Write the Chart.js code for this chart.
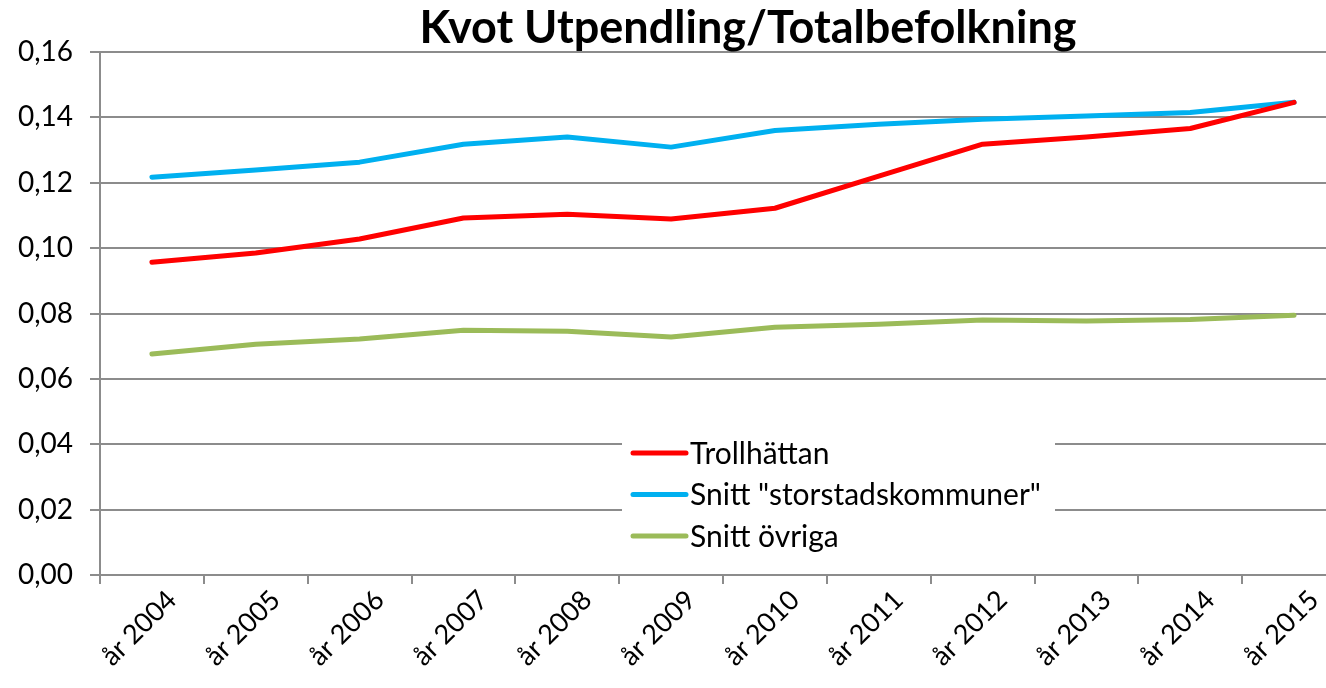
<!DOCTYPE html>
<html>
<head>
<meta charset="utf-8">
<script src="https://cdn.jsdelivr.net/npm/chart.js@4/dist/chart.umd.min.js"></script>
<style>
  html, body { margin: 0; padding: 0; background: #fff; overflow: hidden; }
  #wrap { width: 1346px; height: 688px; }
</style>
</head>
<body>
<div id="wrap"><canvas id="kvotChart" width="1346" height="688"></canvas></div>
<script>
// data läst från diagrammet
const years = ['år 2004', 'år 2005', 'år 2006', 'år 2007', 'år 2008', 'år 2009',
               'år 2010', 'år 2011', 'år 2012', 'år 2013', 'år 2014', 'år 2015'];
const trollhattan = [0.0957, 0.0985, 0.1028, 0.1092, 0.1104, 0.1089, 0.1122, 0.1220, 0.1318, 0.1340, 0.1366, 0.1446];
const storstad    = [0.1217, 0.1239, 0.1263, 0.1318, 0.1340, 0.1309, 0.1360, 0.1379, 0.1394, 0.1404, 0.1415, 0.1446];
const ovriga      = [0.0676, 0.0706, 0.0722, 0.0749, 0.0746, 0.0728, 0.0758, 0.0767, 0.0780, 0.0777, 0.0782, 0.0795];
const seriesNames = ['Trollhättan', 'Snitt "storstadskommuner"', 'Snitt övriga'];
const seriesColors = ['#FF0000', '#00B0F0', '#9BBB59'];

const FONT = 'Lato, "Noto Sans", sans-serif';
const gridColor = '#8c8c8c';

// titel ritas själv så att plotytan hamnar rätt
const titlePlugin = {
    id: 'titlePlugin',
    afterDraw(chart) {
        const ctx = chart.ctx;
        ctx.save();
        ctx.font = 'bold 45px ' + FONT;
        ctx.fillStyle = '#000';
        ctx.textAlign = 'center';
        ctx.textBaseline = 'middle';
        ctx.fillText('Kvot Utpendling/Totalbefolkning', 748, 28);
        ctx.restore();
    }
};

// legend inne i plotytan med vit bakgrund
const boxLegend = {
    id: 'boxLegend',
    afterDatasetsDraw(chart) {
        const ctx = chart.ctx;
        const x = 622, y = 434, w = 433, h = 126;
        ctx.save();
        ctx.fillStyle = '#fff';
        ctx.fillRect(x, y, w, h);
        ctx.font = '30px ' + FONT;
        ctx.textBaseline = 'middle';
        ctx.textAlign = 'left';
        chart.data.datasets.forEach((ds, i) => {
            const ly = 453 + i * 41.5;
            ctx.strokeStyle = ds.borderColor;
            ctx.lineWidth = 5;
            ctx.lineCap = 'round';
            ctx.beginPath();
            ctx.moveTo(633, ly);
            ctx.lineTo(686, ly);
            ctx.stroke();
            ctx.fillStyle = '#000';
            ctx.fillText(ds.label, 690, ly + 1);
        });
        ctx.restore();
    }
};

const ctx = document.getElementById('kvotChart').getContext('2d');
new Chart(ctx, {
    type: 'line',
    data: {
        labels: years,
        datasets: [trollhattan, storstad, ovriga].map((vals, i) => ({
            label: seriesNames[i],
            data: vals,
            borderColor: seriesColors[i],
            backgroundColor: seriesColors[i],
            borderWidth: 5,
            pointRadius: 0,
            tension: 0,
            borderCapStyle: 'round',
            borderJoinStyle: 'round'
        }))
    },
    options: {
        responsive: false,
        animation: false,
        layout: { padding: { top: 52, right: 0, left: 0, bottom: 0 } },
        plugins: {
            legend: { display: false },
            title: { display: false },
            tooltip: { enabled: false }
        },
        scales: {
            x: {
                offset: true,
                grid: {
                    offset: true,
                    drawOnChartArea: false,
                    drawTicks: true,
                    tickLength: 9,
                    color: gridColor,
                    lineWidth: 2
                },
                border: { color: gridColor, width: 2 },
                ticks: {
                    color: '#000',
                    font: { family: FONT, size: 27 },
                    maxRotation: 45,
                    minRotation: 45,
                    padding: 0,
                    labelOffset: 20,
                    autoSkip: false
                },
                afterFit(scale) { scale.height = 113; }
            },
            y: {
                min: 0,
                max: 0.16,
                grid: {
                    color: gridColor,
                    lineWidth: 2,
                    tickLength: 10
                },
                border: { color: gridColor, width: 2 },
                ticks: {
                    stepSize: 0.02,
                    color: '#000',
                    font: { family: FONT, size: 28 },
                    padding: 17,
                    callback: v => v.toFixed(2).replace('.', ',')
                },
                afterFit(scale) { scale.width = 100; }
            }
        }
    },
    plugins: [boxLegend, titlePlugin]
});
</script>
</body>
</html>
